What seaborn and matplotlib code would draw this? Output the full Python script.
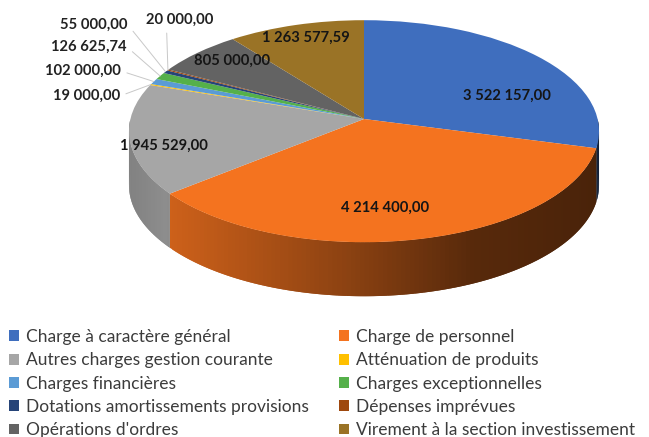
import numpy as np
import matplotlib
matplotlib.use("Agg")
import matplotlib.pyplot as plt
from matplotlib.transforms import Transform
import seaborn as sns

categories = ["Charge à caractère général", "Charge de personnel", "Autres charges gestion courante",
              "Atténuation de produits", "Charges financières", "Charges exceptionnelles",
              "Dotations amortissements provisions", "Dépenses imprévues", "Opérations d'ordres",
              "Virement à la section investissement"]
values = [3522157.00, 4214400.00, 1945529.00, 19000.00, 102000.00, 126625.74, 55000.00, 20000.00, 805000.00, 1263577.59]
value_labels = ["3 522 157,00", "4 214 400,00", "1 945 529,00", "19 000,00", "102 000,00", "126 625,74",
                "55 000,00", "20 000,00", "805 000,00", "1 263 577,59"]
colors = ["#3F6EBE", "#F4731F", "#A6A6A6", "#FFC000", "#5B9BD5", "#55B04A", "#264478", "#9E480E", "#636363", "#9A7326"]

sns.set_theme(style="white")
plt.rcParams["font.family"] = ["Lato", "DejaVu Sans"]
palette = sns.color_palette(colors)

W, H = 649, 437
CX, CY, RX, RY, DEPTH = 364, 119, 235, 111, 54
K, SX, SY = 0.11, 0.994, 0.988


def persp(x, y):
    return SX * x / (1 + K * y), SY * y / (1 + K * y)


class Persp(Transform):
    input_dims = output_dims = 2

    def transform_non_affine(self, xy):
        xy = np.asarray(xy, dtype=float)
        xp, yp = persp(xy[:, 0], xy[:, 1])
        return np.column_stack([xp, yp])


fig = plt.figure(figsize=(W / 100, H / 100), dpi=100, facecolor="white")
ax = fig.add_axes([0, 0, 1, 1])

wedges, _ = ax.pie(values, colors=palette, startangle=90, counterclock=False, radius=1, wedgeprops=dict(lw=0))
ax.set_aspect("auto")
ax.set_xlim(-CX / RX, (W - CX) / RX)
ax.set_ylim((CY - H) / RY, CY / RY)
ax.axis("off")
for w in wedges:
    w.set_transform(Persp() + ax.transData)

d = DEPTH / RY
for w, c in zip(wedges, palette):
    lo, hi = w.theta1 % 360, (w.theta1 % 360) + (w.theta2 - w.theta1)
    for shift in (0, -360, 360):
        s0, s1 = max(lo + shift, 180), min(hi + shift, 360)
        if s1 <= s0:
            continue
        edges = np.radians(np.linspace(s0, s1, max(2, int(s1 - s0) + 2)))
        step = edges[1] - edges[0]
        for t0, t1 in zip(edges[:-1], edges[1:]):
            t2 = min(t1 + step, np.radians(s1))
            xa, ya = persp(np.cos(t0), np.sin(t0))
            xb, yb = persp(np.cos(t2), np.sin(t2))
            f = np.interp(xa, [-1, -0.85, -0.1, 0.45, 1], [0.78, 0.85, 0.58, 0.36, 0.30])
            col = tuple(v * f for v in c)
            ax.fill([xa, xb, xb, xa], [ya, yb, yb - d, ya - d], color=col, lw=0, zorder=0.5)


def frac(px, py):
    return px / W, 1 - py / H


inside = {0: (507, 96), 1: (385, 208), 2: (164, 146), 8: (232, 61), 9: (306, 38)}
outside = {3: (120, 96), 4: (121, 71), 5: (127, 47), 6: (128, 25), 7: (180, 20)}
for i, (px, py) in inside.items():
    ax.text(*frac(px, py), value_labels[i], transform=fig.transFigure, ha="center", va="center",
            fontsize=10.6, fontweight="bold", color="#151515", zorder=5)
for i, (px, py) in outside.items():
    mid = np.radians((wedges[i].theta1 + wedges[i].theta2) / 2)
    top = i == 7
    ax.annotate(value_labels[i], xy=persp(np.cos(mid), np.sin(mid)), xytext=frac(px, py), textcoords="figure fraction",
                ha="center" if top else "right", va="center", fontsize=10.6, fontweight="bold", color="#222222",
                zorder=5,
                arrowprops=dict(arrowstyle="-", color="#C8C8C8", lw=0.7, shrinkA=2, shrinkB=0,
                                relpos=(0.3, 0) if top else (1, 0.5)))

order = [0, 2, 4, 6, 8, 1, 3, 5, 7, 9]
ax.legend([wedges[i] for i in order], [categories[i] for i in order], ncol=2,
          loc="upper left", bbox_to_anchor=(9 / W, 1 - 329 / H), bbox_transform=fig.transFigure,
          frameon=False, fontsize=12.5, labelcolor="#3C3C3C", handlelength=0.58, handleheight=0.58,
          handletextpad=0.4, labelspacing=0.42, columnspacing=1.72, borderpad=0, borderaxespad=0)
fig.savefig("out.png", dpi=100, facecolor="white")
